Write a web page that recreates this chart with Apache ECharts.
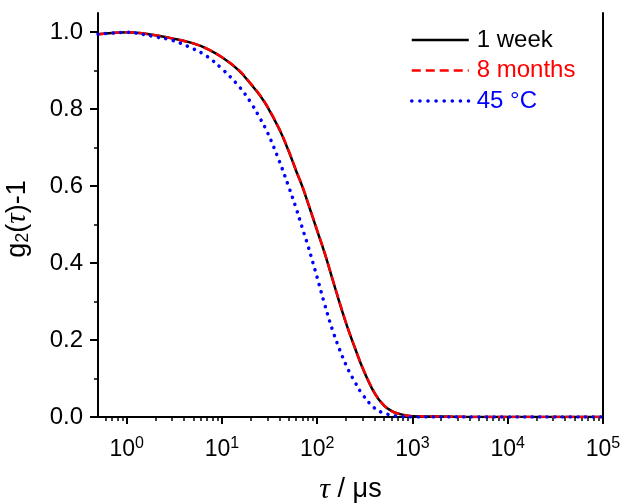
<!DOCTYPE html>
<html>
<head>
<meta charset="utf-8">
<script src="https://cdn.jsdelivr.net/npm/echarts@6/dist/echarts.min.js"></script>
<style>
  html, body { margin: 0; padding: 0; background: #fff; }
  #chart { width: 622px; height: 503px; }
</style>
</head>
<body>
<div id="chart"></div>
<script>
// delay time tau (µs)
const tau = [0.5, 0.7, 1, 1.5, 2, 3, 5, 7, 10, 15, 20, 25, 30, 40, 50, 60, 70, 80, 100, 120, 150, 200, 250, 300, 400, 500, 600, 700, 1000, 2000, 5000, 10000, 30000, 100000]

const week1 = [0.995, 0.998, 1.000, 0.997, 0.992, 0.984, 0.971, 0.957, 0.935, 0.901, 0.866, 0.836, 0.806, 0.748, 0.692, 0.640, 0.598, 0.556, 0.484, 0.425, 0.345, 0.245, 0.178, 0.127, 0.062, 0.030, 0.016, 0.009, 0.002, 0.001, 0.000, 0.000, 0.000, 0.000]
const months8 = [0.995, 0.998, 1.000, 0.997, 0.992, 0.984, 0.971, 0.957, 0.935, 0.902, 0.867, 0.837, 0.807, 0.749, 0.693, 0.641, 0.599, 0.557, 0.485, 0.426, 0.346, 0.246, 0.179, 0.128, 0.063, 0.031, 0.016, 0.009, 0.002, 0.001, 0.000, 0.000, 0.000, 0.000]
const deg45 = [0.995, 0.998, 1.000, 0.994, 0.988, 0.979, 0.957, 0.937, 0.905, 0.860, 0.818, 0.777, 0.740, 0.665, 0.600, 0.543, 0.490, 0.445, 0.362, 0.292, 0.215, 0.136, 0.090, 0.058, 0.023, 0.010, 0.005, 0.002, 0.000, 0.000, 0.000, 0.000, 0.000, 0.000]

const xMajor = [1, 10, 100, 1000, 10000, 100000]
const xMinor = []
for (let d = 0.1; d < 100000; d *= 10) {
  for (let k = 2; k <= 9; k++) {
    const v = +(k * d).toPrecision(3)
    if (v > 0.5 && v < 100000) xMinor.push(v)
  }
}
const yMajor = [0, 0.2, 0.4, 0.6, 0.8, 1.0]
const yMinor = [0.1, 0.3, 0.5, 0.7, 0.9]

const font = 'Liberation Sans, Arial, sans-serif'

const pairs = (ys) => tau.map((t, i) => [t, ys[i]])

const chart = echarts.init(document.getElementById('chart'))

const option = {
  backgroundColor: '#fff',
  animation: false,
  grid: { left: 98, right: 19, top: 13, bottom: 86, containLabel: false, outerBoundsMode: 'none' },
  legend: {
    orient: 'vertical',
    left: 405,
    top: 22,
    itemWidth: 57,
    itemHeight: 14,
    itemGap: 4.5,
    itemStyle: { opacity: 0 },
    textStyle: { fontFamily: font, fontSize: 24, lineHeight: 26, padding: [0, 0, 0, 3] },
    data: [
      { name: '1 week', textStyle: { color: '#000' }, lineStyle: { width: 2.5 } },
      { name: '8 months', textStyle: { color: '#ff0000' }, lineStyle: { width: 2.5, type: [9, 5] } },
      { name: '45 °C', textStyle: { color: '#0000ff' }, lineStyle: { width: 3.5, cap: 'round', type: [0.1, 8] } }
    ]
  },
  xAxis: [
    {
      type: 'log',
      logBase: 10,
      min: 0.5,
      max: 100000,
      position: 'bottom',
      axisLine: { lineStyle: { color: '#000', width: 2 } },
      axisTick: { show: true, inside: false, length: 7, lineStyle: { color: '#000', width: 2 }, customValues: xMajor },
      splitLine: { show: false },
      axisLabel: {
        margin: 19,
        customValues: xMajor,
        formatter: (v) => '{b|10}{s|' + Math.round(Math.log10(v)) + '}',
        rich: {
          b: { fontFamily: font, fontSize: 23, lineHeight: 28, color: '#000' },
          s: { fontFamily: font, fontSize: 16, lineHeight: 16, color: '#000', verticalAlign: 'top' }
        }
      },
      name: '{i|τ}{n| / μs}',
      nameLocation: 'middle',
      nameGap: 58,
      nameTextStyle: {
        rich: {
          i: { fontFamily: 'Liberation Serif, serif', fontStyle: 'italic', fontSize: 30, color: '#000' },
          n: { fontFamily: font, fontSize: 27, color: '#000' }
        }
      }
    },
    {
      type: 'log',
      logBase: 10,
      min: 0.5,
      max: 100000,
      position: 'bottom',
      axisLine: { show: false },
      axisTick: { show: true, inside: false, length: 4, lineStyle: { color: '#000', width: 1.5 }, customValues: xMinor },
      axisLabel: { show: false },
      splitLine: { show: false }
    },
    {
      type: 'log',
      logBase: 10,
      min: 0.5,
      max: 100000,
      position: 'top',
      axisLine: { lineStyle: { color: '#000', width: 2 } },
      axisTick: { show: false },
      axisLabel: { show: false },
      splitLine: { show: false }
    }
  ],
  yAxis: [
    {
      type: 'value',
      min: 0,
      max: 1.05,
      position: 'left',
      axisLine: { show: true, lineStyle: { color: '#000', width: 2 } },
      axisTick: { show: true, inside: false, length: 8, lineStyle: { color: '#000', width: 2 }, customValues: yMajor },
      splitLine: { show: false },
      axisLabel: {
        customValues: yMajor,
        margin: 15,
        fontFamily: font,
        fontSize: 24,
        color: '#000',
        formatter: (v) => v.toFixed(1)
      },
      name: '{n|g}{sub|2}{n|(}{i|τ}{n|)-1}',
      nameLocation: 'middle',
      nameGap: 66,
      nameRotate: 90,
      nameTextStyle: {
        padding: [0, 8, 0, 0],
        rich: {
          n: { fontFamily: font, fontSize: 27, color: '#000' },
          sub: { fontFamily: font, fontSize: 18, color: '#000', verticalAlign: 'bottom', padding: [10, 0, 0, 0] },
          i: { fontFamily: 'Liberation Serif, serif', fontStyle: 'italic', fontSize: 29, color: '#000' }
        }
      }
    },
    {
      type: 'value',
      min: 0,
      max: 1.05,
      position: 'left',
      axisLine: { show: false },
      axisTick: { show: true, inside: false, length: 4, lineStyle: { color: '#000', width: 1.5 }, customValues: yMinor },
      axisLabel: { show: false },
      splitLine: { show: false }
    },
    {
      type: 'value',
      min: 0,
      max: 1.05,
      position: 'right',
      axisLine: { show: true, lineStyle: { color: '#000', width: 2 } },
      axisTick: { show: false },
      axisLabel: { show: false },
      splitLine: { show: false }
    }
  ],
  series: [
    {
      name: '1 week',
      type: 'line',
      data: pairs(week1),
      smooth: 0.4,
      symbol: 'none',
      color: '#000',
      lineStyle: { color: '#000', width: 2.5 }
    },
    {
      name: '8 months',
      type: 'line',
      data: pairs(months8),
      smooth: 0.4,
      symbol: 'none',
      color: '#ff0000',
      lineStyle: { color: '#ff0000', width: 2.5, type: [9, 4.5] }
    },
    {
      name: '45 °C',
      type: 'line',
      data: pairs(deg45),
      smooth: 0.4,
      symbol: 'none',
      color: '#0000ff',
      lineStyle: { color: '#0000ff', width: 3.5, type: [0.1, 7.5], cap: 'round' }
    }
  ]
}

chart.setOption(option)
</script>
</body>
</html>
